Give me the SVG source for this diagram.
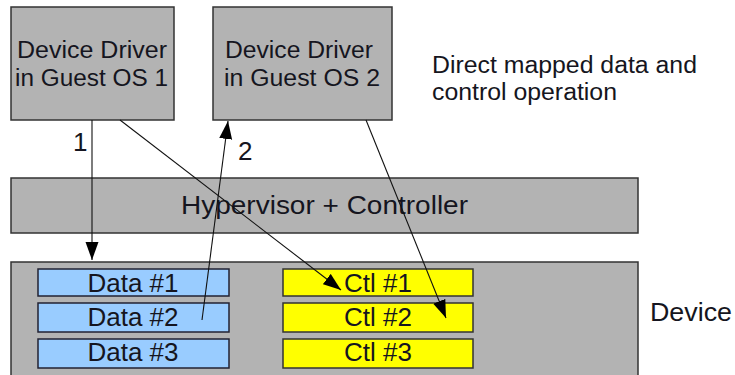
<svg xmlns="http://www.w3.org/2000/svg" width="735" height="375" viewBox="0 0 735 375">
<defs>
<style>
.box{fill:#b3b3b3;stroke:#333;stroke-width:1.5}
.data{fill:#99ccff;stroke:#223;stroke-width:1.5}
.ctl{fill:#ffff00;stroke:#333;stroke-width:1.5}
text{font-family:"Liberation Sans",Arial,sans-serif;fill:#151520}
.t22{font-size:23px}
.t24{font-size:25px}
.t26{font-size:26px}
.c{text-anchor:middle}
.conn{stroke:#111;fill:none;stroke-width:1.1}
</style>
<marker id="ah" markerUnits="userSpaceOnUse" markerWidth="19" markerHeight="14" refX="18" refY="6.5" orient="auto">
<path d="M0,0 L18,6.5 L0,13 Z" fill="#000"/>
</marker>
</defs>
<rect width="735" height="375" fill="#fff"/>
<g id="driver1">
<rect class="box" x="11" y="7" width="163" height="113"/>
<text class="t22" x="17" y="58" textLength="150" lengthAdjust="spacingAndGlyphs">Device Driver</text>
<text class="t22" x="15" y="86" textLength="153" lengthAdjust="spacingAndGlyphs">in Guest OS 1</text>
</g>
<g id="driver2">
<rect class="box" x="213" y="7" width="179" height="113"/>
<text class="t22" x="225" y="58" textLength="148" lengthAdjust="spacingAndGlyphs">Device Driver</text>
<text class="t22" x="224" y="86" textLength="156" lengthAdjust="spacingAndGlyphs">in Guest OS 2</text>
</g>
<g id="caption">
<text class="t22" x="432" y="73" textLength="265" lengthAdjust="spacingAndGlyphs">Direct mapped data and</text>
<text class="t22" x="432" y="100" textLength="185" lengthAdjust="spacingAndGlyphs">control operation</text>
</g>
<g id="hypervisor">
<rect class="box" x="11" y="178" width="627" height="55"/>
<text class="t24" x="181" y="214" textLength="287" lengthAdjust="spacingAndGlyphs">Hypervisor + Controller</text>
</g>
<g id="device">
<rect class="box" x="11" y="262" width="627" height="120"/>
<text class="t24" x="650" y="321" textLength="82" lengthAdjust="spacingAndGlyphs">Device</text>
</g>
<g id="data1"><rect class="data" x="38" y="269" width="191" height="27"/><text class="t26 c" x="133" y="292">Data #1</text></g>
<g id="data2"><rect class="data" x="38" y="303" width="191" height="29"/><text class="t26 c" x="133" y="326">Data #2</text></g>
<g id="data3"><rect class="data" x="38" y="339" width="191" height="29"/><text class="t26 c" x="133" y="361">Data #3</text></g>
<g id="ctl1"><rect class="ctl" x="283" y="269" width="190" height="27"/><text class="t26 c" x="378" y="292">Ctl #1</text></g>
<g id="ctl2"><rect class="ctl" x="283" y="303" width="190" height="29"/><text class="t26 c" x="378" y="326">Ctl #2</text></g>
<g id="ctl3"><rect class="ctl" x="283" y="339" width="190" height="29"/><text class="t26 c" x="378" y="361">Ctl #3</text></g>
<g id="connectors">
<line class="conn" x1="92" y1="120" x2="92" y2="260" marker-end="url(#ah)" stroke-width="1.4"/>
<line class="conn" x1="120" y1="120" x2="341" y2="290" marker-end="url(#ah)"/>
<line class="conn" x1="202" y1="320" x2="228" y2="121" marker-end="url(#ah)"/>
<line class="conn" x1="366" y1="120" x2="446" y2="318" marker-end="url(#ah)"/>
<text class="t26" x="73" y="151">1</text>
<text class="t26" x="238" y="160">2</text>
</g>
</svg>
